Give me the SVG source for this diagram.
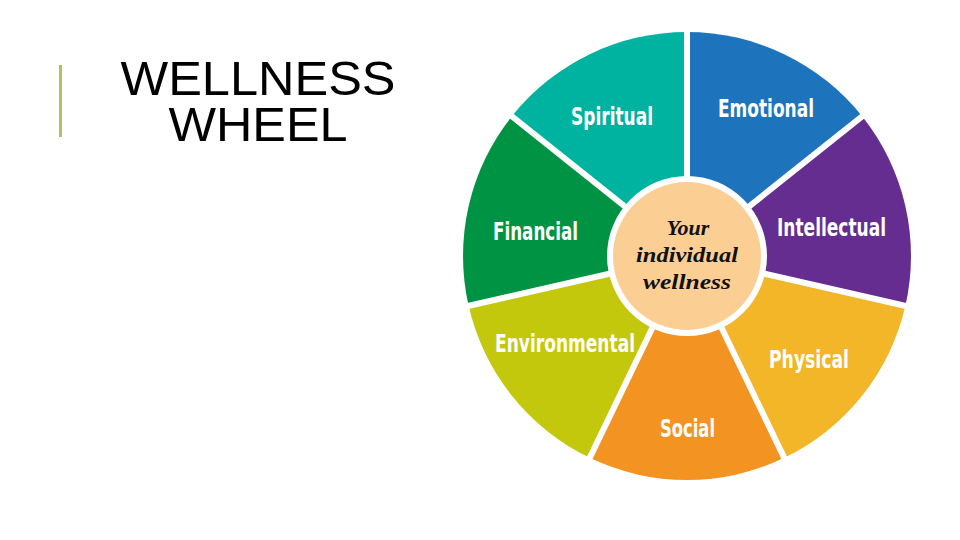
<svg xmlns="http://www.w3.org/2000/svg" width="960" height="540" viewBox="0 0 960 540">
<style>
.lbl{font-family:"DejaVu Sans Condensed","DejaVu Sans","Liberation Sans",sans-serif;font-weight:bold;font-size:25px;fill:#ffffff}
.ctr{font-family:"Liberation Serif","DejaVu Serif",serif;font-weight:bold;font-style:italic;font-size:22px;fill:#111111;text-anchor:middle}
.title{font-family:"Liberation Sans",Arial,sans-serif;font-size:48px;fill:#000000;text-anchor:middle}
.div{stroke:#ffffff;stroke-width:6;stroke-linecap:butt}
</style>
<rect width="960" height="540" fill="#ffffff"/>
<g id="title">
<rect x="59" y="65" width="3" height="72" fill="#a8c75a"/>
<text class="title" x="258" y="95" textLength="275" lengthAdjust="spacingAndGlyphs">WELLNESS</text>
<text class="title" x="258" y="141" textLength="179" lengthAdjust="spacingAndGlyphs">WHEEL</text>
</g>
<g id="emotional">
<path d="M687 256 L687 32 A224 224 0 0 1 862.13 116.34 Z" fill="#1e74bc"/>
<text class="lbl" x="718" y="117" textLength="96" lengthAdjust="spacingAndGlyphs">Emotional</text>
</g>
<g id="intellectual">
<path d="M687 256 L862.13 116.34 A224 224 0 0 1 905.38 305.84 Z" fill="#652d90"/>
<text class="lbl" x="777" y="236" textLength="109" lengthAdjust="spacingAndGlyphs">Intellectual</text>
</g>
<g id="physical">
<path d="M687 256 L905.38 305.84 A224 224 0 0 1 784.19 457.82 Z" fill="#f3b628"/>
<text class="lbl" x="769" y="368" textLength="80" lengthAdjust="spacingAndGlyphs">Physical</text>
</g>
<g id="social">
<path d="M687 256 L784.19 457.82 A224 224 0 0 1 589.81 457.82 Z" fill="#f39322"/>
<text class="lbl" x="660" y="437" textLength="55" lengthAdjust="spacingAndGlyphs">Social</text>
</g>
<g id="environmental">
<path d="M687 256 L589.81 457.82 A224 224 0 0 1 468.62 305.84 Z" fill="#c4c80d"/>
<text class="lbl" x="495" y="352" textLength="140" lengthAdjust="spacingAndGlyphs">Environmental</text>
</g>
<g id="financial">
<path d="M687 256 L468.62 305.84 A224 224 0 0 1 511.87 116.34 Z" fill="#009344"/>
<text class="lbl" x="493" y="240" textLength="85" lengthAdjust="spacingAndGlyphs">Financial</text>
</g>
<g id="spiritual">
<path d="M687 256 L511.87 116.34 A224 224 0 0 1 687 32 Z" fill="#00b2a0"/>
<text class="lbl" x="571" y="125" textLength="82" lengthAdjust="spacingAndGlyphs">Spiritual</text>
</g>
<g id="dividers">
<line class="div" x1="687" y1="256" x2="687" y2="28"/>
<line class="div" x1="687" y1="256" x2="865.26" y2="113.84"/>
<line class="div" x1="687" y1="256" x2="909.28" y2="306.73"/>
<line class="div" x1="687" y1="256" x2="785.93" y2="461.42"/>
<line class="div" x1="687" y1="256" x2="588.07" y2="461.42"/>
<line class="div" x1="687" y1="256" x2="464.72" y2="306.73"/>
<line class="div" x1="687" y1="256" x2="508.74" y2="113.84"/>
</g>
<g id="center">
<circle cx="687" cy="256" r="80" fill="#ffffff"/>
<circle cx="687" cy="256" r="74" fill="#fbcf94"/>
<text class="ctr" x="688" y="235" font-size="23">Your</text>
<text class="ctr" x="687" y="262" textLength="102" lengthAdjust="spacingAndGlyphs">individual</text>
<text class="ctr" x="687" y="289" textLength="88" lengthAdjust="spacingAndGlyphs">wellness</text>
</g>
</svg>
